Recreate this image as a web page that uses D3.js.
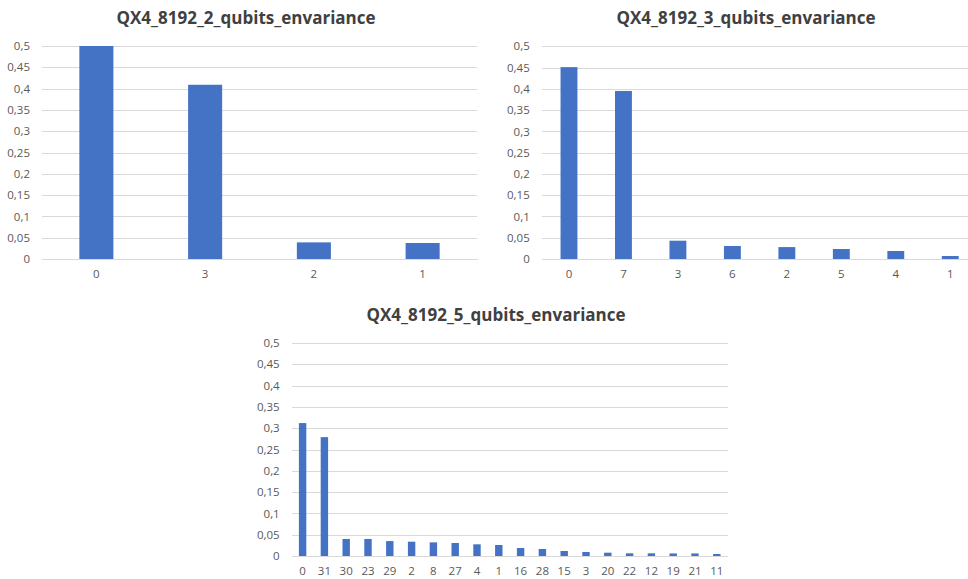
<!DOCTYPE html>
<html>
<head>
<meta charset="utf-8">
<script src="https://cdn.jsdelivr.net/npm/d3@7"></script>
<style>
  html, body { margin: 0; padding: 0; background: #ffffff; }
  svg { display: block; }
</style>
</head>
<body>
<svg id="chart" width="968" height="579"></svg>
<script>
// ---- data ----
const titles = [
  "QX4_8192_2_qubits_envariance",
  "QX4_8192_3_qubits_envariance",
  "QX4_8192_5_qubits_envariance"
];
const categories2 = ["0", "3", "2", "1"];
const values2 = [0.5, 0.409, 0.039, 0.0375];

const categories3 = ["0", "7", "3", "6", "2", "5", "4", "1"];
const values3 = [0.451, 0.395, 0.043, 0.0306, 0.028, 0.0235, 0.0188, 0.007];

const categories5 = ["0", "31", "30", "23", "29", "2", "8", "27", "4", "1",
                     "16", "28", "15", "3", "20", "22", "12", "19", "21", "11"];
const values5 = [0.312, 0.279, 0.040, 0.040, 0.035, 0.0336, 0.032, 0.0305, 0.0274, 0.0258,
                 0.0188, 0.0164, 0.0117, 0.0094, 0.0078, 0.0063, 0.0063, 0.006, 0.006, 0.0047];

const yTicks = [0, 0.05, 0.1, 0.15, 0.2, 0.25, 0.3, 0.35, 0.4, 0.45, 0.5];

// ---- layout (styles/positions) ----
const panels = [
  { title: titles[0], cats: categories2, vals: values2, x0: 42, x1: 477, y0: 46, y1: 259, titleX: 246, titleY: 24, pad: 0.687 },
  { title: titles[1], cats: categories3, vals: values3, x0: 541.75, x1: 977.5, y0: 46.3, y1: 259, titleX: 746, titleY: 24, pad: 0.69 },
  { title: titles[2], cats: categories5, vals: values5, x0: 291.7, x1: 727.7, y0: 343, y1: 556, titleX: 496, titleY: 321, pad: 0.66 }
];

const svg = d3.select("#chart");
const fmt = v => (v === 0 ? "0" : String(+v.toFixed(2)).replace(".", ","));
const fontFam = "'Open Sans', 'Liberation Sans', sans-serif";

panels.forEach(p => {
  const g = svg.append("g");
  const x = d3.scaleBand().domain(p.cats).range([p.x0, p.x1])
    .paddingInner(p.pad).paddingOuter(p.pad / 2);
  const y = d3.scaleLinear().domain([0, 0.5]).range([p.y1, p.y0]);

  // gridlines
  g.append("g")
    .attr("transform", `translate(${p.x0},0)`)
    .call(d3.axisLeft(y).tickValues(yTicks).tickSize(-(p.x1 - p.x0)).tickFormat(""))
    .call(s => s.select(".domain").remove())
    .call(s => s.selectAll("line").attr("stroke", "#d9d9d9").attr("stroke-width", 1)
      .attr("shape-rendering", "crispEdges"));

  // y labels
  g.append("g")
    .attr("transform", `translate(${p.x0 - 12},0)`)
    .call(d3.axisLeft(y).tickValues(yTicks).tickSize(0).tickPadding(0).tickFormat(fmt))
    .call(s => s.select(".domain").remove())
    .call(s => s.selectAll("text").attr("fill", "#595959")
      .style("font-family", fontFam).style("font-size", "11.5px"));

  // bars
  g.selectAll("rect").data(p.vals).join("rect")
    .attr("x", (d, i) => x(p.cats[i]))
    .attr("width", x.bandwidth())
    .attr("y", d => y(d))
    .attr("height", d => y(0) - y(d))
    .attr("fill", "#4472c4");

  // x axis
  g.append("g")
    .attr("transform", `translate(0,${p.y1})`)
    .call(d3.axisBottom(x).tickSize(0).tickPadding(11))
    .call(s => s.select(".domain").attr("stroke", "#d9d9d9").attr("shape-rendering", "crispEdges"))
    .call(s => s.selectAll("text").attr("fill", "#595959")
      .style("font-family", fontFam).style("font-size", "11.5px"));

  // title
  svg.append("text")
    .attr("x", p.titleX).attr("y", p.titleY)
    .attr("text-anchor", "middle")
    .attr("fill", "#404040")
    .style("font-family", fontFam)
    .style("font-weight", "bold").style("font-size", "17px")
    .text(p.title);
});
</script>
</body>
</html>
